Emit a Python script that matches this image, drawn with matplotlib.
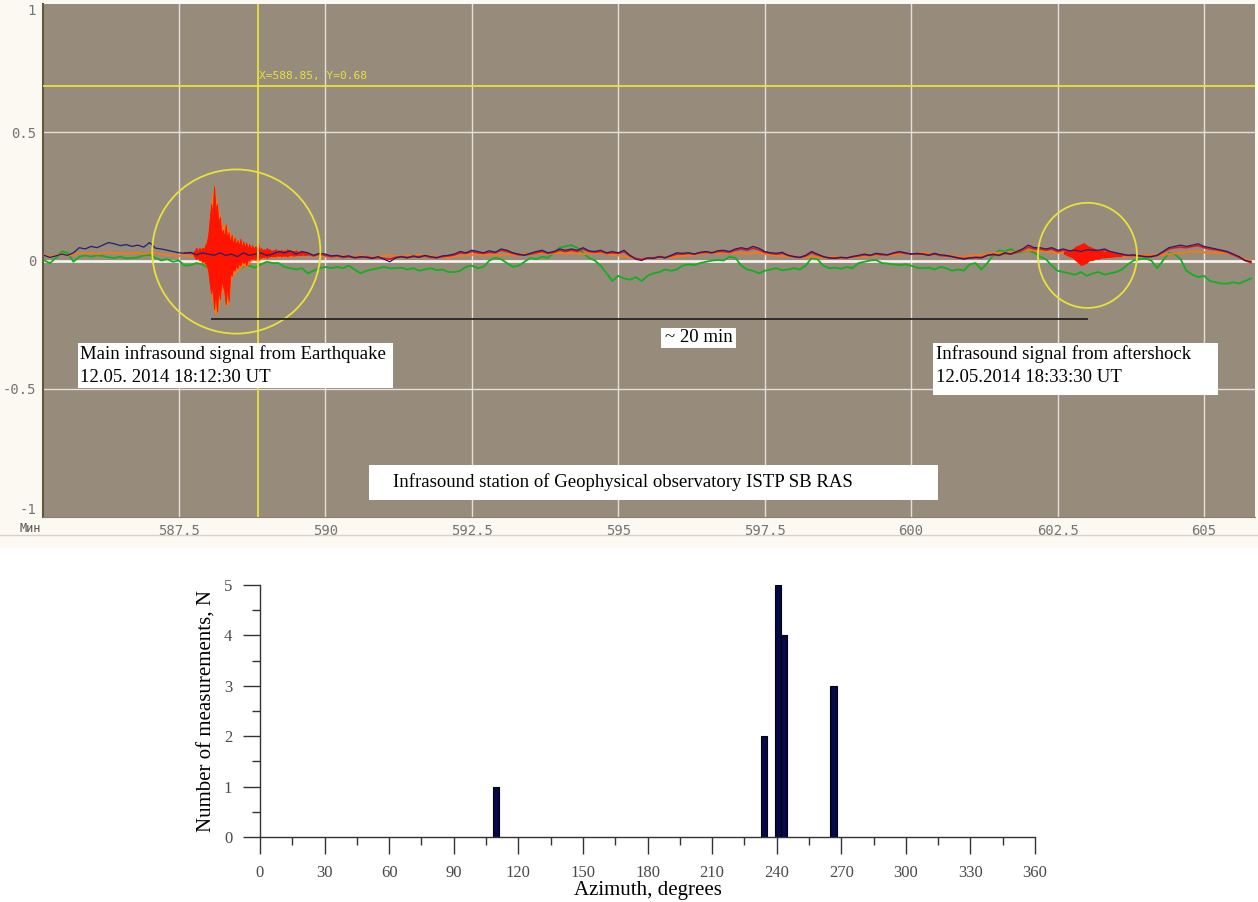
import numpy as np
import matplotlib
matplotlib.use("Agg")
from matplotlib import pyplot as plt
from matplotlib.patches import Ellipse, Rectangle

# ---- top panel: infrasound record, values read per 0.1 min ----
t0, dt = 585.2, 0.1

blue_vals = sum([
    [0.02, 0.012, 0.018, 0.025, 0.02, 0.03, 0.05, 0.045, 0.055, 0.05],
    [0.06, 0.07, 0.065, 0.058, 0.062, 0.055, 0.06, 0.052, 0.07, 0.048],
    [0.045, 0.04, 0.035, 0.03, 0.028, 0.032, 0.022, 0.03, 0.025, 0.02],
    [0.03, 0.02, 0.025, 0.015, 0.03, 0.02, 0.025, 0.03, 0.02, 0.025],
    [0.035, 0.03, 0.038, 0.025, 0.035, 0.03, 0.02, 0.028, 0.025, 0.018],
    [0.02, 0.015, 0.018, 0.01, 0.015, 0.012, 0.008, 0.015, 0.005, -0.005],
    [0.01, 0.015, 0.01, 0.018, 0.012, 0.02, 0.015, 0.01, 0.018, 0.02],
    [0.025, 0.035, 0.03, 0.04, 0.035, 0.03, 0.038, 0.032, 0.045, 0.04],
    [0.03, 0.025, 0.02, 0.028, 0.035, 0.04, 0.03, 0.035, 0.045, 0.04],
    [0.045, 0.04, 0.05, 0.038, 0.035, 0.04, 0.03, 0.035, 0.03, 0.04],
    [0.02, 0.005, 0.0, 0.01, 0.008, 0.015, 0.01, 0.02, 0.03, 0.028],
    [0.03, 0.025, 0.032, 0.035, 0.03, 0.038, 0.04, 0.035, 0.045, 0.05],
    [0.045, 0.055, 0.048, 0.035, 0.03, 0.028, 0.032, 0.02, 0.015, 0.012],
    [0.02, 0.035, 0.025, 0.015, 0.01, 0.008, 0.012, 0.01, 0.015, 0.02],
    [0.025, 0.02, 0.028, 0.025, 0.022, 0.03, 0.035, 0.03, 0.025, 0.028],
    [0.025, 0.02, 0.028, 0.022, 0.02, 0.015, 0.01, 0.005, 0.01, 0.012],
    [0.01, 0.02, 0.025, 0.02, 0.03, 0.025, 0.035, 0.045, 0.06, 0.05],
    [0.05, 0.045, 0.05, 0.04, 0.045, 0.038, 0.04, 0.035, 0.042, 0.04],
    [0.04, 0.045, 0.035, 0.03, 0.025, 0.02, 0.022, 0.018, 0.015, 0.015],
    [0.02, 0.035, 0.05, 0.055, 0.06, 0.055, 0.06, 0.065, 0.055, 0.05],
    [0.045, 0.04, 0.035, 0.025, 0.015, 0.0, -0.005],
], [])

orange_vals = sum([
    [0.02, 0.015, 0.02, 0.025, 0.02, 0.022, 0.03, 0.028, 0.03, 0.025],
    [0.03, 0.032, 0.028, 0.03, 0.025, 0.028, 0.03, 0.025, 0.03, 0.028],
    [0.025, 0.022, 0.02, 0.018, 0.02, 0.015, 0.02, 0.018, 0.02, 0.02],
    [0.02, 0.02, 0.025, 0.02, 0.022, 0.025, 0.02, 0.025, 0.022, 0.02],
    [0.025, 0.022, 0.025, 0.02, 0.022, 0.02, 0.018, 0.02, 0.015, 0.018],
    [0.015, 0.018, 0.012, 0.015, 0.018, 0.015, 0.012, 0.015, 0.018, 0.02],
    [0.018, 0.015, 0.02, 0.018, 0.022, 0.02, 0.018, 0.015, 0.012, 0.01],
    [0.015, 0.018, 0.02, 0.022, 0.025, 0.02, 0.025, 0.022, 0.02, 0.025],
    [0.022, 0.02, 0.025, 0.022, 0.028, 0.03, 0.025, 0.028, 0.03, 0.028],
    [0.03, 0.028, 0.025, 0.028, 0.03, 0.028, 0.025, 0.022, 0.02, 0.015],
    [0.012, 0.008, 0.005, 0.008, 0.01, 0.012, 0.015, 0.012, 0.015, 0.018],
    [0.02, 0.022, 0.025, 0.028, 0.03, 0.028, 0.03, 0.032, 0.03, 0.028],
    [0.025, 0.03, 0.028, 0.025, 0.022, 0.02, 0.018, 0.015, 0.015, 0.012],
    [0.012, 0.015, 0.012, 0.01, 0.012, 0.015, 0.012, 0.01, 0.012, 0.015],
    [0.015, 0.018, 0.02, 0.022, 0.02, 0.022, 0.025, 0.028, 0.025, 0.028],
    [0.03, 0.028, 0.025, 0.022, 0.02, 0.018, 0.015, 0.015, 0.018, 0.02],
    [0.022, 0.025, 0.028, 0.03, 0.03, 0.032, 0.035, 0.038, 0.04, 0.04],
    [0.038, 0.035, 0.032, 0.03, 0.03, 0.028, 0.03, 0.028, 0.025, 0.025],
    [0.025, 0.022, 0.02, 0.018, 0.015, 0.015, 0.018, 0.02, 0.022, 0.02],
    [0.02, 0.022, 0.025, 0.028, 0.03, 0.032, 0.035, 0.035, 0.032, 0.03],
    [0.032, 0.03, 0.028, 0.025, 0.015, 0.005, 0.0],
], [])

green_vals = sum([
    [0.0, -0.01, 0.01, 0.035, 0.03, -0.005, 0.015, 0.02, 0.015, 0.02],
    [0.018, 0.012, 0.01, 0.015, 0.008, 0.01, 0.012, 0.02, 0.022, 0.01],
    [0.0, 0.005, -0.005, 0.0, -0.02, -0.018, -0.01, -0.015, -0.03, -0.02],
    [-0.025, -0.03, -0.02, -0.035, -0.025, -0.02, -0.028, -0.015, -0.005, -0.01],
    [-0.01, -0.025, -0.03, -0.035, -0.03, -0.05, -0.04, -0.03, -0.025, -0.03],
    [-0.025, -0.03, -0.02, -0.035, -0.05, -0.04, -0.035, -0.03, -0.025, -0.03],
    [-0.03, -0.028, -0.035, -0.03, -0.04, -0.035, -0.03, -0.038, -0.035, -0.045],
    [-0.045, -0.04, -0.025, -0.02, -0.03, -0.025, 0.0, 0.01, 0.005, -0.01],
    [-0.025, -0.02, -0.005, 0.01, 0.005, 0.015, 0.01, 0.03, 0.05, 0.055],
    [0.06, 0.05, 0.03, 0.01, 0.0, -0.02, -0.05, -0.08, -0.06, -0.07],
    [-0.075, -0.065, -0.08, -0.06, -0.05, -0.045, -0.035, -0.04, -0.035, -0.02],
    [-0.015, -0.018, -0.01, -0.005, 0.0, 0.002, 0.0, 0.015, 0.01, -0.02],
    [-0.035, -0.04, -0.05, -0.04, -0.035, -0.03, -0.038, -0.035, -0.03, -0.035],
    [-0.02, 0.01, 0.005, -0.02, -0.03, -0.028, -0.032, -0.025, -0.03, -0.01],
    [-0.005, 0.0, 0.002, -0.01, -0.012, -0.015, -0.018, -0.015, -0.02, -0.028],
    [-0.03, -0.028, -0.035, -0.025, -0.03, -0.04, -0.035, -0.04, -0.015, -0.01],
    [-0.035, -0.01, 0.02, 0.04, 0.035, 0.045, 0.03, 0.035, 0.04, 0.03],
    [0.015, 0.005, -0.02, -0.04, -0.045, -0.05, -0.055, -0.045, -0.06, -0.05],
    [-0.045, -0.055, -0.05, -0.045, -0.035, -0.015, 0.0, 0.005, 0.008, 0.0],
    [-0.03, 0.0, 0.03, 0.025, 0.005, -0.04, -0.055, -0.065, -0.06, -0.08],
    [-0.085, -0.09, -0.09, -0.085, -0.09, -0.08, -0.07],
], [])

# red channel is visible from 587.6 min on
red_t0 = 587.6
red_vals = sum([
    [0.03, 0.028, 0.025, 0.03, 0.025, 0.022],
    [0.025, 0.02, 0.022, 0.018, 0.025, 0.022, 0.02, 0.025, 0.02, 0.022],
    [0.03, 0.025, 0.032, 0.022, 0.03, 0.025, 0.018, 0.025, 0.02, 0.015],
    [0.018, 0.012, 0.015, 0.012, 0.012, 0.015, 0.01, 0.012, 0.008, 0.005],
    [0.012, 0.015, 0.012, 0.015, 0.015, 0.018, 0.012, 0.012, 0.015, 0.018],
    [0.022, 0.03, 0.028, 0.035, 0.03, 0.028, 0.032, 0.03, 0.04, 0.035],
    [0.028, 0.022, 0.022, 0.025, 0.03, 0.035, 0.028, 0.032, 0.04, 0.035],
    [0.04, 0.035, 0.045, 0.035, 0.032, 0.035, 0.028, 0.03, 0.028, 0.035],
    [0.018, 0.008, 0.004, 0.01, 0.01, 0.015, 0.012, 0.018, 0.025, 0.025],
    [0.028, 0.025, 0.03, 0.032, 0.03, 0.035, 0.035, 0.032, 0.04, 0.045],
    [0.04, 0.048, 0.042, 0.032, 0.028, 0.025, 0.028, 0.02, 0.015, 0.012],
    [0.018, 0.03, 0.022, 0.015, 0.01, 0.01, 0.012, 0.01, 0.015, 0.018],
    [0.022, 0.02, 0.025, 0.022, 0.022, 0.028, 0.032, 0.028, 0.025, 0.025],
    [0.025, 0.022, 0.025, 0.02, 0.018, 0.015, 0.01, 0.008, 0.01, 0.012],
    [0.012, 0.02, 0.022, 0.02, 0.028, 0.025, 0.032, 0.04, 0.052, 0.045],
    [0.045, 0.04, 0.045, 0.035, 0.04, 0.035, 0.035, 0.032, 0.038, 0.035],
    [0.035, 0.04, 0.032, 0.028, 0.022, 0.02, 0.02, 0.018, 0.015, 0.015],
    [0.02, 0.032, 0.045, 0.05, 0.052, 0.05, 0.055, 0.058, 0.05, 0.045],
    [0.042, 0.038, 0.032, 0.022, 0.012, 0.0, -0.008],
], [])

# main event, red envelope per 0.025 min from 587.75
burst_t0, burst_dt = 587.75, 0.025
red_burst_top = [0.035, 0.04, 0.05, 0.035, 0.05, 0.04, 0.05, 0.045, 0.06, 0.07,
                 0.10, 0.16, 0.22, 0.18, 0.29, 0.20, 0.22, 0.15, 0.17, 0.10,
                 0.12, 0.09, 0.14, 0.08, 0.11, 0.07, 0.10, 0.06, 0.09, 0.06,
                 0.08, 0.055, 0.085, 0.05, 0.075, 0.05, 0.07, 0.045, 0.065, 0.045,
                 0.06, 0.045, 0.055, 0.05, 0.07, 0.04, 0.05,
                 0.04, 0.045, 0.038, 0.05, 0.04, 0.045, 0.035, 0.04, 0.038, 0.045,
                 0.035, 0.04, 0.036, 0.042, 0.035, 0.04, 0.036, 0.045, 0.035, 0.04,
                 0.034, 0.038, 0.035, 0.04, 0.033, 0.035, 0.032, 0.038, 0.03, 0.035,
                 0.03, 0.032]
red_burst_bot = [0.02, 0.01, 0.005, 0.012, 0.0, 0.008, -0.005, 0.0, -0.01, -0.02,
                 -0.04, -0.09, -0.13, -0.10, -0.19, -0.12, -0.20, -0.11, -0.15, -0.08,
                 -0.10, -0.12, -0.17, -0.10, -0.16, -0.05, -0.06, -0.03, -0.04, -0.015,
                 -0.03, -0.01, -0.02, 0.0, -0.01, 0.0, -0.02, 0.005, 0.0, 0.008,
                 0.005, 0.01, 0.005, 0.01, 0.0, 0.012, 0.01,
                 0.015, 0.012, 0.016, 0.01, 0.015, 0.015, 0.018, 0.015, 0.018, 0.015,
                 0.02, 0.018, 0.02, 0.015, 0.02, 0.018, 0.02, 0.015, 0.02, 0.02,
                 0.022, 0.018, 0.02, 0.02, 0.022, 0.02, 0.022, 0.022, 0.024, 0.02,
                 0.022, 0.022]

# orange envelope of the burst per 0.05 min from 587.75
orange_burst_t0, orange_burst_dt = 587.75, 0.05
orange_burst_top = [0.03, 0.04, 0.045, 0.05, 0.06, 0.11, 0.24, 0.30, 0.23, 0.18,
                    0.13, 0.15, 0.12, 0.10, 0.09, 0.08, 0.08, 0.07, 0.07, 0.06,
                    0.055, 0.05, 0.06, 0.045, 0.04, 0.045, 0.04, 0.035, 0.04, 0.035,
                    0.035, 0.035, 0.04, 0.035, 0.035, 0.035, 0.03, 0.032, 0.03, 0.03]
orange_burst_bot = [0.02, 0.005, 0.0, -0.01, -0.015, -0.05, -0.14, -0.20, -0.21, -0.16,
                    -0.11, -0.18, -0.17, -0.07, -0.05, -0.04, -0.03, -0.02, -0.03, -0.01,
                    0.0, 0.0, -0.005, 0.005, 0.008, 0.005, 0.01, 0.01, 0.01, 0.012,
                    0.012, 0.015, 0.012, 0.015, 0.015, 0.015, 0.018, 0.018, 0.018, 0.02]

# aftershock: envelope per 0.05 min from 602.6
after_t0, after_dt = 602.6, 0.05
after_top = [0.035, 0.038, 0.04, 0.045, 0.055, 0.06, 0.065, 0.07, 0.06, 0.055, 0.05,
             0.045, 0.04, 0.04, 0.035, 0.035, 0.033, 0.032, 0.03, 0.03, 0.028]
after_bot = [0.025, 0.02, 0.015, 0.01, 0.0, -0.01, -0.02, -0.015, -0.01, 0.0, 0.0,
             0.005, 0.005, 0.01, 0.01, 0.012, 0.012, 0.014, 0.015, 0.015, 0.016]

cursor_x, cursor_y = 588.85, 0.68

# ---- bottom panel: azimuth histogram ----
azimuth = [109.5, 234.0, 240.5, 243.5, 266.5]
counts = [1, 2, 5, 4, 3]
bin_width = 3.0

W, H = 1258, 902
fig = plt.figure(figsize=(W / 100, H / 100), dpi=100)
fig.patch.set_facecolor('white')

# cream window background of the recorder screenshot
fig.patches.append(Rectangle((0, 1 - 548 / H), 1, 548 / H, transform=fig.transFigure,
                             facecolor='#fcf8f2', edgecolor='none', zorder=-10))
fig.add_artist(plt.Line2D([0, 1], [1 - 535 / H] * 2, transform=fig.transFigure,
                          color='#d9d2c8', lw=1, zorder=-5))

ax = fig.add_axes([43 / W, 1 - 517 / H, (1255 - 43) / W, (517 - 4) / H])
ax.set_facecolor('#978b7c')
ax.set_xlim(585.18, 605.87)
ax.set_ylim(-1, 1)

xt = [587.5, 590, 592.5, 595, 597.5, 600, 602.5, 605]
ax.set_xticks(xt)
ax.set_xticklabels(['587.5', '590', '592.5', '595', '597.5', '600', '602.5', '605'])
ax.set_yticks([-1, -0.5, 0, 0.5, 1])
ax.set_yticklabels(['-1', '-0.5', '0', '0.5', '1'])
ax.tick_params(length=0, labelsize=10, labelcolor='#747474', pad=5)
for lab in ax.get_xticklabels() + ax.get_yticklabels():
    lab.set_family('DejaVu Sans Mono')
ax.get_yticklabels()[-1].set_va('top')
ax.get_yticklabels()[0].set_va('bottom')
for x in xt:
    ax.axvline(x, color='#e6e1d8', lw=1, zorder=1)
for y in (-0.5, 0.5):
    ax.axhline(y, color='#e6e1d8', lw=1, zorder=1)
ax.axhline(0, color='#f2f0ec', lw=2, zorder=1)
for s in ('top', 'right'):
    ax.spines[s].set_visible(False)
ax.spines['left'].set_color('#5e5a3c')
ax.spines['left'].set_linewidth(1.5)
ax.spines['bottom'].set_color('#8a7f70')

t_main = t0 + dt * np.arange(len(blue_vals))
t_red = red_t0 + dt * np.arange(len(red_vals))
t_burst = burst_t0 + burst_dt * np.arange(len(red_burst_top))
t_oburst = orange_burst_t0 + orange_burst_dt * np.arange(len(orange_burst_top))
t_after = after_t0 + after_dt * np.arange(len(after_top))

ax.plot(t_main, green_vals, color='#12b020', lw=1.3, zorder=3)
ax.plot(t_main, orange_vals, color='#f07a1a', lw=1.4, zorder=3)
ax.fill_between(t_oburst, orange_burst_bot, orange_burst_top, color='#f07a1a', lw=0, zorder=3)
ax.fill_between(t_burst, red_burst_bot, red_burst_top, color='#ff1400', lw=0.6,
                edgecolor='#ff1400', zorder=4)
ax.fill_between(t_after, after_bot, after_top, color='#ff1400', lw=0, zorder=4)
ax.plot(t_red, red_vals, color='#e81818', lw=1.3, zorder=4)
ax.plot(t_main, blue_vals, color='#23206e', lw=0.9, zorder=5)

# cursor
ax.axvline(cursor_x, color='#e8e23a', lw=1.3, zorder=6)
ax.axhline(cursor_y, color='#e8e23a', lw=1.3, zorder=6)
ax.text(cursor_x + 0.02, cursor_y + 0.02, f'X={cursor_x:.2f}, Y={cursor_y:.2f}',
        color='#e8e23a', fontsize=8, family='DejaVu Sans Mono', va='bottom', zorder=6)

# event circles
ax.add_patch(Ellipse((588.48, 0.035), 2.87, 0.64, fill=False, ec='#e8e23a', lw=1.3, zorder=6))
ax.add_patch(Ellipse((603.01, 0.02), 1.69, 0.41, fill=False, ec='#e8e23a', lw=1.3, zorder=6))
ax.plot([588.07, 603.01], [-0.227, -0.227], color='#262626', lw=1.3, zorder=6)

# annotation boxes
serif = 'Liberation Serif'
def box(x0, x1, y0, y1):
    ax.add_patch(Rectangle((x0, y0), x1 - x0, y1 - y0, facecolor='white',
                           edgecolor='none', zorder=7))

box(585.78, 591.16, -0.496, -0.32)
ax.text(585.82, -0.41, 'Main infrasound signal from Earthquake\n12.05. 2014 18:12:30 UT',
        family=serif, fontsize=13.5, va='center', ha='left', linespacing=1.45, zorder=8)
box(595.73, 597.01, -0.34, -0.262)
ax.text(595.80, -0.301, '~ 20 min', family=serif, fontsize=13.5, va='center', zorder=8)
box(600.38, 605.23, -0.523, -0.32)
ax.text(600.42, -0.41, 'Infrasound signal from aftershock\n12.05.2014 18:33:30 UT',
        family=serif, fontsize=13.5, va='center', ha='left', linespacing=1.45, zorder=8)
box(590.74, 600.45, -0.934, -0.797)
ax.text(591.15, -0.862, 'Infrasound station of Geophysical observatory ISTP SB RAS',
        family=serif, fontsize=13.5, va='center', zorder=8)

fig.text(30 / W, 1 - 528 / H, 'Мин', family='DejaVu Sans Mono', fontsize=8.5,
         color='#555555', ha='center', va='center')

# ---- bottom histogram ----
bx = fig.add_axes([260 / W, 1 - 837 / H, (1035 - 260) / W, (837 - 585) / H])
bx.bar(azimuth, counts, width=bin_width, color='#05084a', edgecolor='#000000', lw=0.8)
bx.set_xlim(0, 360)
bx.set_ylim(0, 5)
bx.set_xticks(np.arange(0, 361, 30))
bx.set_xticks(np.arange(15, 360, 30), minor=True)
bx.set_yticks(np.arange(0, 6, 1))
bx.set_yticks(np.arange(0.5, 5, 1), minor=True)
for s in ('top', 'right'):
    bx.spines[s].set_visible(False)
for s in ('left', 'bottom'):
    bx.spines[s].set_color('#333333')
    bx.spines[s].set_linewidth(1)
bx.tick_params(axis='x', which='major', length=12, width=1, color='#333333', pad=8)
bx.tick_params(axis='x', which='minor', length=6, width=1, color='#333333')
bx.tick_params(axis='y', which='major', length=12, width=1, color='#333333', pad=8)
bx.tick_params(axis='y', which='minor', length=6, width=1, color='#333333')
bx.tick_params(labelsize=12, labelcolor='#4a4a4a')
for lab in bx.get_xticklabels() + bx.get_yticklabels():
    lab.set_family(serif)
bx.set_xlabel('Azimuth, degrees', family=serif, fontsize=15, labelpad=0)
bx.set_ylabel('Number of measurements, N', family=serif, fontsize=15, labelpad=5)

fig.savefig('out.png', dpi=100, facecolor=fig.get_facecolor())
